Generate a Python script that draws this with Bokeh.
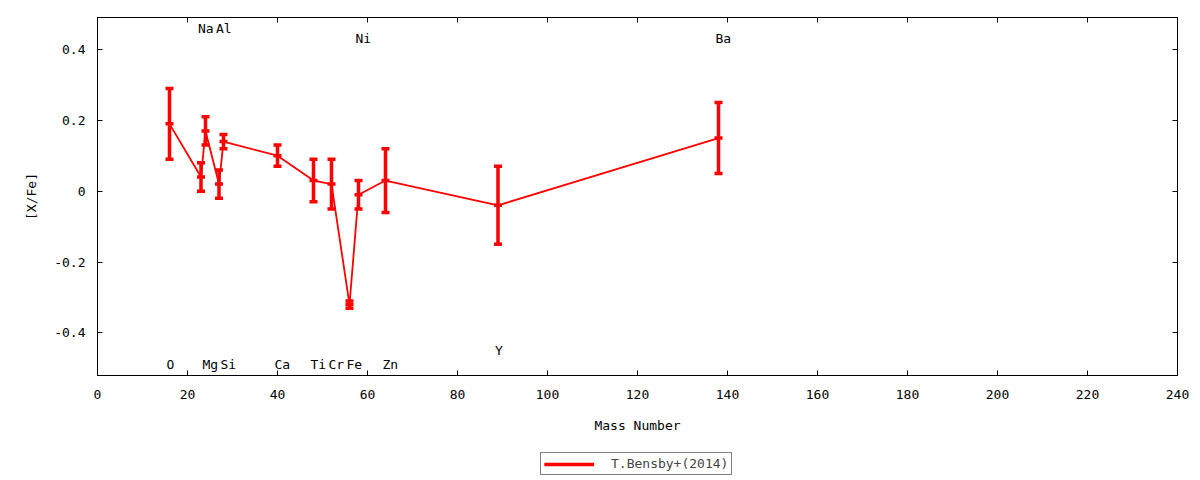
from bokeh.plotting import figure
from bokeh.layouts import column
from bokeh.models import (Range1d, FixedTicker, LinearAxis, Legend, LegendItem,
                          CustomJSTickFormatter)
from bokeh.core.properties import value
from bokeh.embed import file_html
from bokeh.resources import INLINE

# ---- data ----
elements = ["O", "Na", "Mg", "Al", "Si", "Ca", "Ti", "Cr", "Fe", "Ni", "Zn", "Y", "Ba"]
mass = [16, 23, 24, 27, 28, 40, 48, 52, 56, 58, 64, 89, 138]
abund = [0.19, 0.04, 0.17, 0.02, 0.14, 0.10, 0.03, 0.02, -0.32, -0.01, 0.03, -0.04, 0.15]
err = [0.10, 0.04, 0.04, 0.04, 0.02, 0.03, 0.06, 0.07, 0.01, 0.04, 0.09, 0.11, 0.10]
label_y = [-0.49, 0.46, -0.49, 0.46, -0.49, -0.49, -0.49, -0.49, -0.49, 0.43, -0.49, -0.45, 0.43]
x_ticks = [0, 20, 40, 60, 80, 100, 120, 140, 160, 180, 200, 220, 240]
y_ticks = [-0.4, -0.2, 0, 0.2, 0.4]
series_name = "T.Bensby+(2014)"
x_title = "Mass Number"
y_title = "[X/Fe]"

FONT = "DejaVu Sans Mono"
FS = "13px"
RED = "#ff0000"

lo = [a - e for a, e in zip(abund, err)]
hi = [a + e for a, e in zip(abund, err)]

p = figure(width=1200, height=436, x_range=Range1d(0, 240), y_range=Range1d(-0.52, 0.49),
           output_backend="svg", toolbar_location=None,
           min_border_left=97, min_border_right=23, min_border_top=17, min_border_bottom=61,
           x_axis_label=x_title, y_axis_label=y_title)
p.grid.visible = False
p.outline_line_color = "black"
p.outline_line_width = 1
p.background_fill_color = "white"
p.border_fill_color = "white"

p.line(mass, abund, line_color=RED, line_width=1.8)
p.segment(x0=mass, y0=lo, x1=mass, y1=hi, line_color=RED, line_width=3.5)
p.scatter(x=mass + mass, y=lo + hi, marker="dash", size=8, line_color=RED, line_width=3.5)
p.scatter(x=mass, y=abund, marker="dash", size=8, line_color=RED, line_width=3.5)

p.text(x=mass, y=label_y, text=elements, text_font=value(FONT), text_font_size=FS,
       text_align="left", text_baseline="middle", x_offset=-3, text_color="black")

def style(ax):
    ax.major_tick_in = 5
    ax.major_tick_out = 0
    ax.minor_tick_in = 0
    ax.minor_tick_out = 0
    ax.axis_line_color = "black"
    ax.major_tick_line_color = "black"
    ax.major_label_text_font = FONT
    ax.major_label_text_font_size = FS
    ax.major_label_text_color = "black"
    ax.axis_label_text_font = FONT
    ax.axis_label_text_font_size = FS
    ax.axis_label_text_font_style = "normal"
    ax.axis_label_text_color = "black"

xa = p.xaxis[0]
style(xa)
xa.ticker = FixedTicker(ticks=x_ticks)
xa.major_label_standoff = 14
xa.axis_label_standoff = 16

ya = p.yaxis[0]
style(ya)
ya.ticker = FixedTicker(ticks=y_ticks)
ya.formatter = CustomJSTickFormatter(code="return Math.abs(tick) < 1e-9 ? '0' : tick.toFixed(1);")
ya.major_label_standoff = 12
ya.axis_label_standoff = 12

blank = CustomJSTickFormatter(code="return '';")
ra = LinearAxis(ticker=FixedTicker(ticks=y_ticks), formatter=blank, major_label_standoff=0)
style(ra)
p.add_layout(ra, "right")
ta = LinearAxis(ticker=FixedTicker(ticks=x_ticks), formatter=blank, major_label_standoff=0)
style(ta)
p.add_layout(ta, "above")

# legend strip below the chart (its series drawn off-range so only the key shows)
lf = figure(width=1200, height=44, x_range=Range1d(-10, -9), y_range=Range1d(-10, -9),
            output_backend="svg", toolbar_location=None, x_axis_type=None, y_axis_type=None,
            min_border=0, min_border_left=0, min_border_right=0, min_border_top=0,
            min_border_bottom=0)
lf.grid.visible = False
lf.outline_line_color = None
lf.background_fill_color = "white"
lf.border_fill_color = "white"
k_line = lf.line(mass, abund, line_color=RED, line_width=1.8)
k_seg = lf.segment(x0=mass, y0=lo, x1=mass, y1=hi, line_color=RED, line_width=3.5)

legend = Legend(items=[LegendItem(label=series_name, renderers=[k_line, k_seg])],
                location=(443, 5), border_line_color="black", border_line_width=1,
                label_text_font=FONT, label_text_font_size=FS, glyph_width=50,
                glyph_height=6, label_height=6, padding=3, margin=0, spacing=0,
                label_standoff=17, background_fill_color="white", background_fill_alpha=1)
lf.add_layout(legend)

layout = column(p, lf, spacing=0)
open("out.html", "w").write(file_html(layout, INLINE))
